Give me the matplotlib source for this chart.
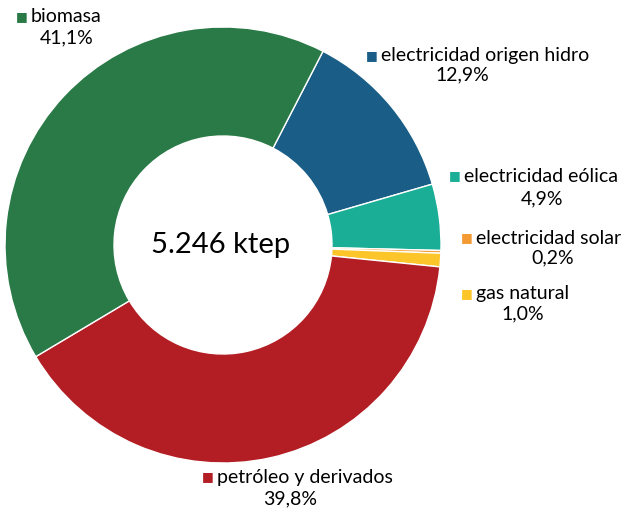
import matplotlib.pyplot as plt

# energy mix, ktep share (%)
labels = ["electricidad origen hidro", "electricidad eólica", "electricidad solar",
          "gas natural", "petróleo y derivados", "biomasa"]
values = [12.9, 4.9, 0.2, 1.0, 39.8, 41.1]
pct_text = ["12,9%", "4,9%", "0,2%", "1,0%", "39,8%", "41,1%"]
colors = ["#1a5e88", "#1aae96", "#f39a32", "#fcc52a", "#b21e24", "#2a7a47"]
total = "5.246 ktep"

W, H = 628, 511
fig = plt.figure(figsize=(W / 100, H / 100), dpi=100)
plt.rcParams['font.family'] = ['Lato', 'DejaVu Sans']

cx, cy, r = 223, 245, 218
ax = fig.add_axes([(cx - r) / W, (H - cy - r) / H, 2 * r / W, 2 * r / H])
ax.pie(values, colors=colors, startangle=62.7, counterclock=False, radius=1,
       wedgeprops=dict(width=0.5, edgecolor="white", linewidth=1))
ax.set_xlim(-1, 1)
ax.set_ylim(-1, 1)
ax.set_aspect("equal")
ax.axis("off")

ax.text(-0.01, 0.0, total, ha="center", va="center", fontsize=21, color="black")

# label layout in pixel coords: (square x, label y, pct center x, pct y)
pos = [(372, 56, 462, 75),
       (455, 176, 542, 199),
       (467, 238, 553, 258),
       (467, 294, 523, 314),
       (208, 477, 290, 499),
       (22, 17, 67, 38)]

for i, (sx, ly, px, py) in enumerate(pos):
    fig.text(sx / W, 1 - ly / H, "■", color=colors[i], fontsize=9,
             ha="center", va="center", family="DejaVu Sans")
    fig.text((sx + 9) / W, 1 - ly / H, labels[i], fontsize=14,
             ha="left", va="center", color="black")
    fig.text(px / W, 1 - py / H, pct_text[i], fontsize=14,
             ha="center", va="center", color="black")

fig.savefig("out.png", dpi=100)
